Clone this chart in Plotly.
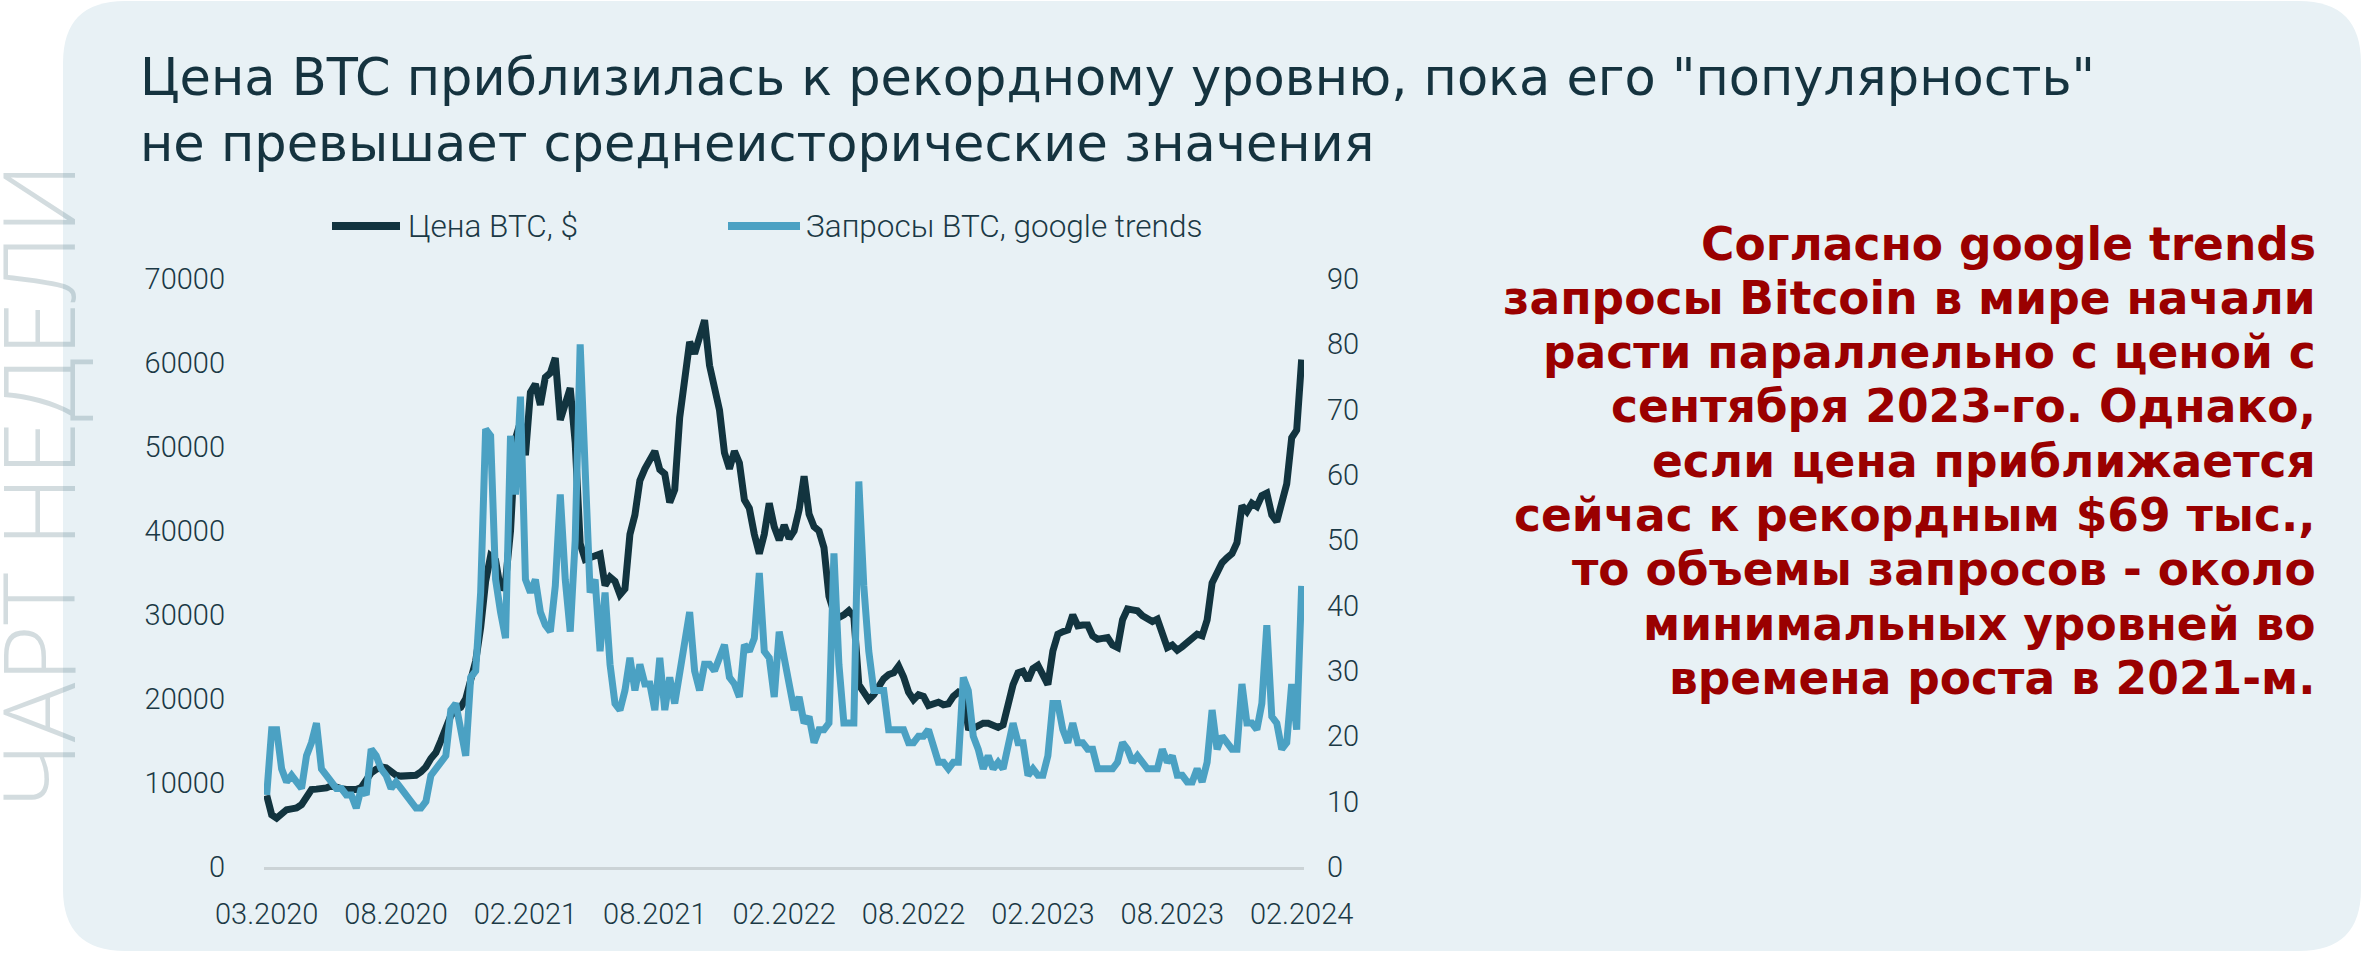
import pandas as pd
import plotly.graph_objects as go

W, H = 2363, 954

# weekly observations, first week 01.03.2020
week_start = "2020-03-01"

btc_price = [
    8500, 6200, 5800, 6400, 6800, 6900, 7000, 7400, 8500, 9200,
    9250, 9300, 9400, 9650, 9400, 9300, 9200, 9100, 9200, 9450,
    10300, 11200, 11600, 11900, 11800, 11400, 10900, 10800, 10850, 10700,
    10900, 11300, 11900, 12900, 13600, 15000, 16300, 18000, 18700, 19000,
    20000, 22500, 24500, 28500, 34000, 37000, 36500, 33000, 34000, 40000,
    51000, 53000, 49000, 56500, 57500, 55000, 58300, 58800, 60600, 53200,
    55000, 57000, 50500, 38500, 36600, 36800, 37000, 37250, 33500, 34500,
    34000, 32400, 33100, 39600, 41900, 46000, 47400, 48600, 49500, 47300,
    46800, 43400, 44900, 53500, 58800, 62500, 61100, 63400, 65100, 59700,
    56700, 54400, 49300, 47400, 49500, 48100, 43700, 42700, 39600, 37300,
    39600, 43300, 40500, 38900, 40700, 39100, 40000, 42500, 46500, 42000,
    40500, 40000, 38000, 32200, 30300, 29700, 30000, 30500, 29800, 21700,
    20800, 19900, 20500, 21500, 22400, 22900, 23100, 23900, 22600, 20800,
    19900, 20500, 20300, 19200, 19400, 19600, 19300, 19400, 20300, 20800,
    20500, 16600, 16500, 16800, 17100, 17100, 16800, 16600, 16900, 19200,
    21700, 23100, 23300, 22200, 23600, 24000, 23000, 21700, 25700, 27700,
    28000, 28200, 30000, 28700, 28800, 28800, 27500, 27100, 27200, 27300,
    26400, 26100, 29400, 30700, 30600, 30500, 29900, 29500, 29200, 29500,
    27800, 26100, 26400, 25800, 26200, 26700, 27100, 27700, 27500, 29400,
    33800, 35200, 36200, 36800, 37300, 38600, 43000, 42300, 43300, 42900,
    44200, 44500, 41900, 41100, 43000, 45600, 51100, 52000, 60400,
]

google_trends = [
    11, 21, 21, 15, 13, 14, 13, 12, 17, 19,
    22, 15, 14, 13, 12, 12, 11, 11, 9, 12,
    11, 18, 17, 15, 14, 12, 13, 12, 11, 10,
    9, 9, 10, 14, 15, 16, 17, 24, 25, 21,
    17, 29, 30, 42, 67, 66, 44, 39, 35, 66,
    57, 72, 44, 42, 44, 39, 37, 36, 43, 57,
    44, 36, 50, 80, 61, 42, 44, 33, 42, 31,
    25, 24, 27, 32, 27, 31, 28, 28, 24, 32,
    24, 29, 25, 30, 35, 39, 30, 27, 31, 31,
    30, 32, 34, 29, 28, 26, 34, 33, 35, 45,
    33, 32, 26, 36, 32, 28, 24, 26, 22, 23,
    19, 21, 21, 22, 48, 31, 22, 22, 22, 59,
    43, 33, 27, 27, 27, 21, 21, 21, 21, 19,
    19, 20, 20, 21, 18, 16, 16, 15, 16, 16,
    29, 27, 20, 18, 15, 17, 15, 16, 15, 19,
    22, 19, 19, 14, 15, 14, 14, 17, 25, 25,
    21, 19, 22, 19, 19, 18, 18, 15, 15, 15,
    15, 16, 19, 18, 16, 17, 16, 15, 15, 15,
    18, 16, 17, 14, 14, 13, 13, 15, 13, 16,
    24, 18, 20, 19, 18, 18, 28, 22, 22, 21,
    25, 37, 23, 22, 18, 19, 28, 21, 43,
]

tick_text = ["03.2020", "08.2020", "02.2021", "08.2021", "02.2022",
             "08.2022", "02.2023", "08.2023", "02.2024"]
price_ticks = [0, 10000, 20000, 30000, 40000, 50000, 60000, 70000]
trend_ticks = [0, 10, 20, 30, 40, 50, 60, 70, 80, 90]

title_lines = ['Цена BTC приблизилась к рекордному уровню, пока его "популярность"',
               'не превышает среднеисторические значения']
side_lines = ["Согласно google trends",
              "запросы Bitcoin в мире начали",
              "расти параллельно с ценой с",
              "сентября 2023-го. Однако,",
              "если цена приближается",
              "сейчас к рекордным $69 тыс.,",
              "то объемы запросов - около",
              "минимальных уровней во",
              "времена роста в 2021-м."]

DARK = "#12343F"
BLUE = "#4BA1C3"
CARD = "#E8F1F5"
TXT = "#1B3945"
RED = "#9A0000"
THIN = "Roboto"

dates = pd.date_range(week_start, periods=len(btc_price), freq="7D")
tick_vals = list(dates[::26])


def px(x):
    return x / W


def py(y):
    return 1 - y / H


fig = go.Figure()
fig.add_trace(go.Scatter(x=dates, y=btc_price, mode="lines", name="Цена BTC, $",
                         line=dict(color=DARK, width=7), yaxis="y"))
fig.add_trace(go.Scatter(x=dates, y=google_trends, mode="lines", name="Запросы BTC, google trends",
                         line=dict(color=BLUE, width=7), yaxis="y2"))

# rounded card behind everything
x0, y0, x1, y1, r = 63, 1, 2361, 951, 62
card_path = ("M {a},{b} L {c},{b} Q {d},{b} {d},{e} L {d},{f} Q {d},{g} {c},{g} "
             "L {a},{g} Q {h},{g} {h},{f} L {h},{e} Q {h},{b} {a},{b} Z").format(
    a=px(x0 + r), b=py(y0), c=px(x1 - r), d=px(x1), e=py(y0 + r), f=py(y1 - r),
    g=py(y1), h=px(x0))
shapes = [dict(type="path", path=card_path, xref="paper", yref="paper",
               fillcolor=CARD, line=dict(width=0), layer="below")]

# legend samples
for (lx0, lx1, col) in [(332, 400, DARK), (728, 800, BLUE)]:
    shapes.append(dict(type="line", xref="paper", yref="paper", x0=px(lx0), x1=px(lx1),
                       y0=py(226), y1=py(226), line=dict(color=col, width=8)))

annotations = [
    dict(text="ЧАРТ НЕДЕЛИ", x=px(-34), y=py(486), xref="paper", yref="paper",
         xanchor="left", yanchor="middle", textangle=-90, showarrow=False,
         font=dict(family="Open Sans", size=99, color="rgba(71,108,121,0.24)", weight=300)),
    dict(text="Цена BTC, $", x=px(406), y=py(226), xref="paper", yref="paper",
         xanchor="left", yanchor="middle", showarrow=False,
         font=dict(family=THIN, size=31.5, color=TXT, weight=300)),
    dict(text="Запросы BTC, google trends", x=px(804), y=py(226), xref="paper", yref="paper",
         xanchor="left", yanchor="middle", showarrow=False,
         font=dict(family=THIN, size=31.5, color=TXT, weight=300)),
    dict(text="<br>".join(title_lines), x=px(138), y=py(110), xref="paper", yref="paper",
         xanchor="left", yanchor="middle", align="left", showarrow=False,
         font=dict(family="DejaVu Sans", size=51, color="#15333F")),
]
for k, line in enumerate(side_lines):
    annotations.append(dict(text=line, x=px(2318), y=py(244 + 54.3 * k), xref="paper", yref="paper",
                            xanchor="right", yanchor="middle", showarrow=False,
                            font=dict(family="DejaVu Sans", size=45.5, color=RED, weight=700)))

tick_font = dict(family=THIN, size=29, color=TXT, weight=300)

fig.update_layout(
    width=W, height=H,
    margin=dict(l=0, r=0, t=0, b=0, autoexpand=False),
    paper_bgcolor="white", plot_bgcolor="rgba(0,0,0,0)",
    showlegend=False,
    shapes=shapes, annotations=annotations,
    xaxis=dict(domain=[px(264), px(1304)], automargin=False,
               range=[dates[0] - pd.Timedelta(days=3.8), dates[-1] + pd.Timedelta(days=3.3)],
               tickvals=tick_vals, ticktext=tick_text, tickfont=tick_font,
               showgrid=False, zeroline=False, showline=True, linecolor="#CBD3D6", linewidth=3,
               ticks="", ticklabelstandoff=19),
    yaxis=dict(domain=[py(866.8), py(279)], range=[0, 70000], tickvals=price_ticks,
               tickformat="d", tickfont=tick_font, showgrid=False, zeroline=False,
               showline=False, automargin=False, ticks="", ticklabelstandoff=38),
    yaxis2=dict(domain=[py(866.8), py(279)], range=[0, 90], tickvals=trend_ticks,
                overlaying="y", side="right", anchor="x", automargin=False,
                tickfont=tick_font, showgrid=False, zeroline=False, showline=False,
                ticks="", ticklabelstandoff=22),
)

fig.write_html("out.html", config={"displayModeBar": False},
               post_script="document.body.style.margin='0px';")
